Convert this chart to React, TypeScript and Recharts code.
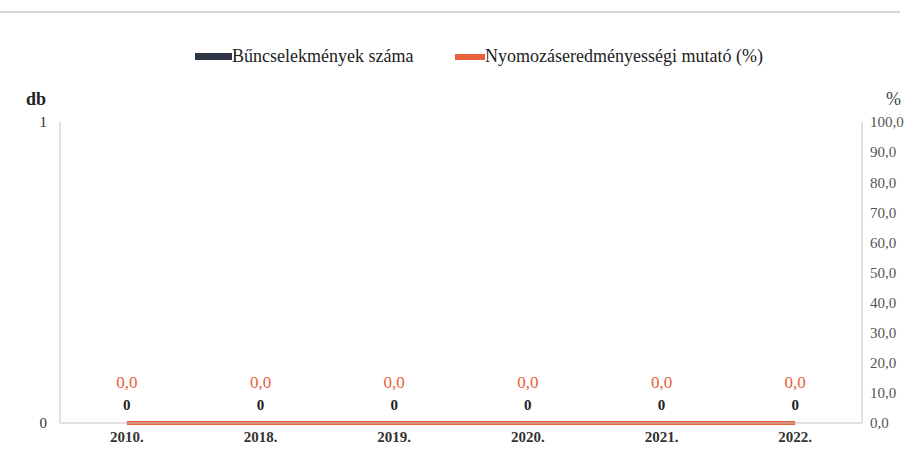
import React from "react";
import {
  ComposedChart,
  Bar,
  Line,
  XAxis,
  YAxis,
  LabelList,
} from "recharts";

const years = ["2010.", "2018.", "2019.", "2020.", "2021.", "2022."];
const crimeCounts = [0, 0, 0, 0, 0, 0];
const clearanceRates = [0, 0, 0, 0, 0, 0];
const countTicks = [0, 1];
const rateTicks = [0, 10, 20, 30, 40, 50, 60, 70, 80, 90, 100];

const data = years.map((year, i) => ({
  year,
  count: crimeCounts[i],
  rate: clearanceRates[i],
}));

const serif = "'Liberation Serif', 'DejaVu Serif', serif";
const axisGrey = "#c4c4c4";
const barColor = "#2f3447";
const lineColor = "#e8603c";

const fmtRate = (v: number) => v.toFixed(1).replace(".", ",");

const CountLabel = (props: any) => {
  const { x, y, value } = props;
  return (
    <text
      x={x}
      y={y - 13}
      textAnchor="middle"
      style={{ fontFamily: serif, fontWeight: "bold", fontSize: 15 }}
      fill="#222"
    >
      {value}
    </text>
  );
};

const RateLabel = (props: any) => {
  const { x, y, value } = props;
  return (
    <text
      x={x}
      y={y - 35}
      textAnchor="middle"
      style={{ fontFamily: serif, fontSize: 17 }}
      fill={lineColor}
    >
      {fmtRate(value)}
    </text>
  );
};

export default function App() {
  return (
    <div
      style={{
        position: "absolute",
        left: 0,
        top: 0,
        width: 907,
        height: 467,
        background: "#fff",
        fontFamily: serif,
      }}
    >
      <div
        style={{
          position: "absolute",
          left: 0,
          top: 11,
          width: 900,
          height: 2,
          background: "#d6d6d6",
        }}
      />
      <div
        style={{
          position: "absolute",
          top: 46,
          left: 195,
          display: "flex",
          alignItems: "center",
          fontSize: 18,
          color: "#222",
          whiteSpace: "nowrap",
        }}
      >
        <span style={{ width: 37, height: 7, background: barColor, display: "inline-block" }} />
        <span>Bűncselekmények száma</span>
      </div>
      <div
        style={{
          position: "absolute",
          top: 46,
          left: 455,
          display: "flex",
          alignItems: "center",
          fontSize: 18,
          color: "#222",
          whiteSpace: "nowrap",
        }}
      >
        <span style={{ width: 30, height: 6, background: lineColor, display: "inline-block" }} />
        <span>Nyomozáseredményességi mutató (%)</span>
      </div>
      <div
        style={{
          position: "absolute",
          left: 26,
          top: 89,
          fontSize: 18,
          fontWeight: "bold",
          color: "#222",
        }}
      >
        db
      </div>
      <div
        style={{
          position: "absolute",
          left: 886,
          top: 89,
          fontSize: 18,
          color: "#444",
        }}
      >
        %
      </div>
      <ComposedChart
        width={907}
        height={467}
        data={data}
        margin={{ top: 122, right: 5, left: 30, bottom: 14 }}
        style={{ fontFamily: serif }}
      >
        <XAxis
          dataKey="year"
          stroke={axisGrey}
          tickLine={false}
          tickSize={0}
          tickMargin={8}
          tick={{ fill: "#333", fontWeight: "bold", fontSize: 15, style: { fontFamily: serif } }}
          height={30}
        />
        <YAxis
          yAxisId="count"
          domain={[0, 1]}
          ticks={countTicks}
          width={30}
          stroke={axisGrey}
          tickLine={false}
          tickSize={0}
          tickMargin={13}
          tick={{ fill: "#333", fontSize: 15, style: { fontFamily: serif } }}
        />
        <YAxis
          yAxisId="rate"
          orientation="right"
          domain={[0, 100]}
          ticks={rateTicks}
          width={40}
          stroke={axisGrey}
          tickLine={false}
          tickSize={0}
          tickMargin={8}
          tickFormatter={fmtRate}
          tick={{ fill: "#555", fontSize: 15, textAnchor: "start", style: { fontFamily: serif } }}
        />
        <Bar
          yAxisId="count"
          dataKey="count"
          fill={barColor}
          barSize={40}
          isAnimationActive={false}
        />
        <Line
          yAxisId="count"
          type="linear"
          dataKey="count"
          stroke="none"
          dot={false}
          legendType="none"
          isAnimationActive={false}
        >
          <LabelList dataKey="count" content={CountLabel} />
        </Line>
        <Line
          yAxisId="rate"
          type="linear"
          dataKey="rate"
          stroke={lineColor}
          strokeWidth={4}
          dot={false}
          isAnimationActive={false}
        >
          <LabelList dataKey="rate" content={RateLabel} />
        </Line>
      </ComposedChart>
    </div>
  );
}
